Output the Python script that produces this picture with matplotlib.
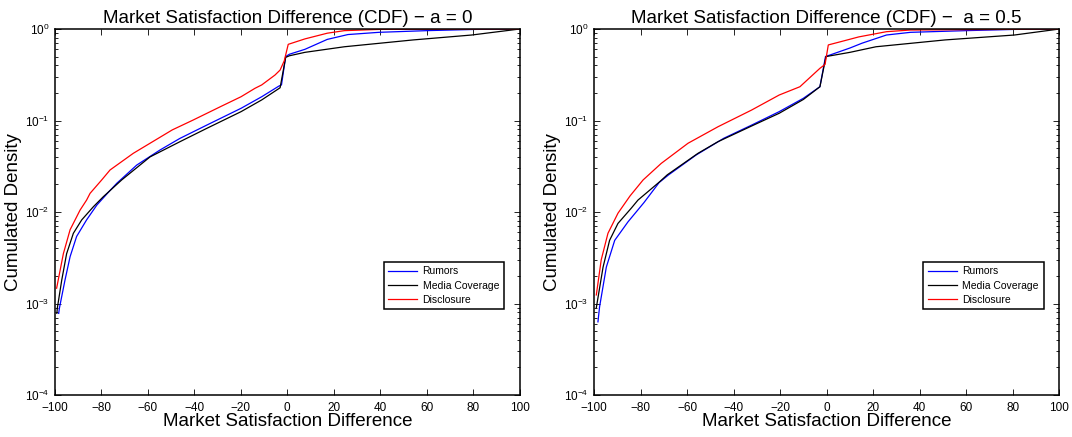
import matplotlib
matplotlib.use("Agg")
import matplotlib.pyplot as plt
from matplotlib.ticker import LogLocator, NullFormatter

plt.rcParams["font.family"] = ["Liberation Sans", "DejaVu Sans"]

# ---- a = 0 ----
x_red_0 = [-99.3, -96.4, -93.5, -89.2, -86.4, -84.9, -79.9, -76.3, -66.3, -59.1,
           -49.5, -40.6, -28.7, -19.9, -13.9, -11, -5.3, -3.1, -1.3, 0.4, 7.6,
           17.2, 24.6, 39.4, 100]
y_red_0 = [1.47e-3, 3.5e-3, 6.4e-3, 0.0105, 0.0135, 0.016, 0.0224, 0.0288,
           0.0438, 0.0564, 0.079, 0.101, 0.142, 0.182, 0.225, 0.245, 0.314,
           0.356, 0.45, 0.68, 0.78, 0.90, 0.96, 0.99, 1.0]

x_blue_0 = [-98.4, -98.1, -95.7, -93.5, -90.7, -86.4, -82.0, -76.3, -73.4, -64.8,
            -54.8, -46.2, -34.7, -19.9, -11, -3.6, -2.5, -0.7, 0.9, 7.6, 17.2,
            26.1, 39.4, 60.1, 80.9, 100]
y_blue_0 = [7.8e-4, 8.9e-4, 1.8e-3, 3.25e-3, 5.4e-3, 8.2e-3, 0.0119, 0.0172,
            0.0206, 0.0326, 0.0476, 0.0638, 0.089, 0.136, 0.182, 0.238, 0.245,
            0.50, 0.53, 0.60, 0.77, 0.87, 0.92, 0.96, 0.99, 1.0]

x_black_0 = [-99.2, -99.0, -97.1, -95.0, -92.1, -88.5, -83.5, -79.2, -71.3, -59.1,
             -46.2, -34.7, -19.9, -11, -3.1, -0.7, 0.9, 7.6, 24.6, 54.2, 79.4, 100]
y_black_0 = [7.8e-4, 8.9e-4, 1.8e-3, 3.5e-3, 5.85e-3, 8.2e-3, 0.0114, 0.0147,
             0.0224, 0.040, 0.0587, 0.082, 0.125, 0.168, 0.228, 0.49, 0.51,
             0.556, 0.64, 0.76, 0.86, 1.0]

# ---- a = 0.5 ----
x_red_5 = [-99.0, -96.9, -94.0, -89.7, -84.5, -78.9, -71.1, -59.6, -46.7, -32.3,
           -20.4, -11.5, -2.9, -0.7, 0.7, 6.3, 13.8, 25.7, 36, 100]
y_red_5 = [1.24e-3, 3.0e-3, 5.85e-3, 9.7e-3, 0.015, 0.0224, 0.034, 0.0564,
           0.0855, 0.130, 0.19, 0.234, 0.372, 0.41, 0.67, 0.73, 0.82, 0.935,
           0.975, 1.0]

x_blue_5 = [-98.3, -97.6, -94.7, -91.1, -85.4, -78.5, -72, -68, -56.1, -44.2,
            -32.3, -20.4, -10, -2.9, -0.5, 10, 15.2, 25.7, 36, 59.9, 80.7, 100]
y_blue_5 = [6.3e-4, 9.2e-4, 2.5e-3, 4.9e-3, 7.8e-3, 0.0127, 0.021, 0.0254,
            0.042, 0.064, 0.089, 0.125, 0.175, 0.234, 0.50, 0.62, 0.70, 0.86,
            0.92, 0.96, 0.99, 1.0]

x_black_5 = [-99.0, -96.1, -93.3, -89.7, -84.0, -81.1, -76.8, -71.8, -68.5, -55.3,
             -46.7, -32.3, -20.4, -10, -2.9, -0.3, 10, 21.2, 50.9, 80.7, 100]
y_black_5 = [9.0e-4, 2.5e-3, 4.9e-3, 7.5e-3, 0.011, 0.0135, 0.0167, 0.0214,
             0.0255, 0.0438, 0.0587, 0.087, 0.12, 0.17, 0.234, 0.50, 0.556,
             0.64, 0.76, 0.86, 1.0]

titles = ["Market Satisfaction Difference (CDF) \u2212 a = 0",
          "Market Satisfaction Difference (CDF) \u2212  a = 0.5"]
x_ticks = [-100, -80, -60, -40, -20, 0, 20, 40, 60, 80, 100]

panels = [
    (x_blue_0, y_blue_0, x_black_0, y_black_0, x_red_0, y_red_0),
    (x_blue_5, y_blue_5, x_black_5, y_black_5, x_red_5, y_red_5),
]

fig = plt.figure(figsize=(10.72, 4.37), dpi=100)
axes_pos = [[0.0513, 0.0961, 0.4334, 0.8375],
            [0.5541, 0.0961, 0.4341, 0.8375]]

for pos, title, (xb, yb, xk, yk, xr, yr) in zip(axes_pos, titles, panels):
    ax = fig.add_axes(pos)
    ax.plot(xb, yb, color="blue", lw=0.9, label="Rumors")
    ax.plot(xk, yk, color="black", lw=0.9, label="Media Coverage")
    ax.plot(xr, yr, color="red", lw=0.9, label="Disclosure")
    ax.set_yscale("log")
    ax.set_xlim(-100, 100)
    ax.set_ylim(1e-4, 1)
    ax.set_xticks(x_ticks)
    ax.yaxis.set_major_locator(LogLocator(base=10, numticks=10))
    ax.yaxis.set_minor_locator(LogLocator(base=10, subs=range(2, 10), numticks=10))
    ax.yaxis.set_minor_formatter(NullFormatter())
    ax.tick_params(which="both", direction="in", top=True, right=True,
                   labelsize=8.5, width=0.6)
    ax.tick_params(which="major", length=4)
    ax.tick_params(which="minor", length=2)
    ax.tick_params(axis="x", pad=5)
    ax.tick_params(axis="y", pad=4)
    for s in ax.spines.values():
        s.set_linewidth(1.1)
    ax.set_title(title, fontsize=13.5, pad=4)
    ax.set_xlabel("Market Satisfaction Difference", fontsize=13.5, labelpad=-1)
    ax.set_ylabel("Cumulated Density", fontsize=13.5, labelpad=2)
    leg = ax.legend(loc="upper right", bbox_to_anchor=(0.966, 0.364),
                    fontsize=7.5, fancybox=False, framealpha=1,
                    edgecolor="black", handlelength=2.8, borderpad=0.45,
                    labelspacing=0.4, borderaxespad=0, handletextpad=0.5)
    leg.get_frame().set_linewidth(1.1)

fig.savefig("out.png", dpi=100)
